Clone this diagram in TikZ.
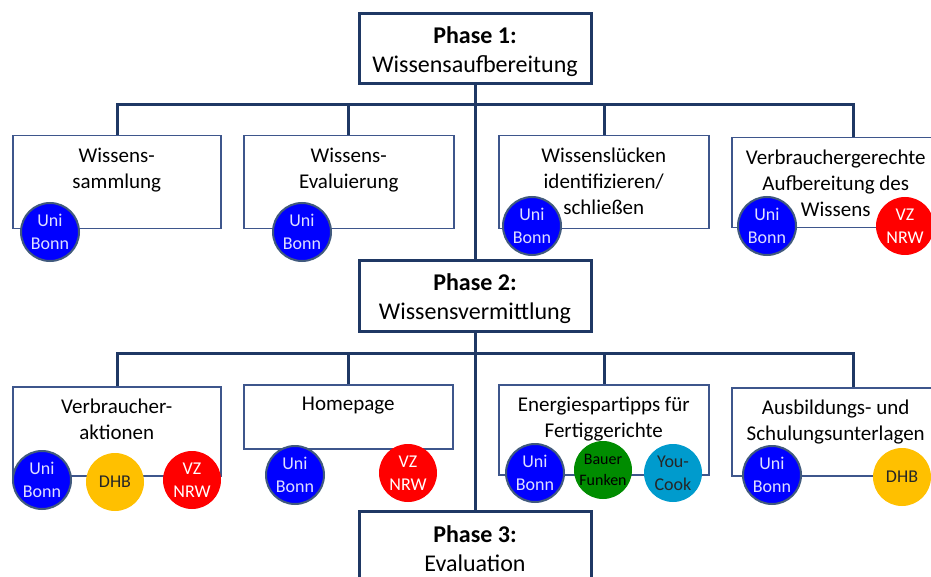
\documentclass[tikz,border=0pt]{standalone}
\usepackage{fontspec}
\setmainfont{Carlito}
\definecolor{navy}{RGB}{31,56,100}
\definecolor{boxline}{RGB}{62,86,140}
\definecolor{ringblue}{RGB}{65,90,125}
\definecolor{dhbgold}{RGB}{255,192,0}
\definecolor{funkgreen}{RGB}{0,140,0}
\definecolor{cookcyan}{RGB}{0,155,205}
\tikzset{
    tree/.style = {draw=navy, line width=1.5pt},
    phase/.style = {draw=navy, line width=1.5pt, fill=white, minimum width=116pt,
        minimum height=35pt, inner sep=0pt},
    phasetext/.style = {inner sep=0pt, align=center, font=\fontsize{12}{14.5}\selectfont},
    task/.style = {draw=boxline, line width=0.75pt, fill=white, inner sep=0pt, anchor=north west},
    tasktext/.style = {inner sep=0pt, anchor=north, align=center,
        font=\fontsize{10.5}{13}\selectfont},
    partner/.style = {circle, minimum size=29pt, inner sep=0pt, align=center,
        font=\fontsize{9}{11.5}\selectfont},
    unibonn/.style = {partner, fill=blue, draw=ringblue, line width=1pt, text=white!88!blue},
    vznrw/.style = {partner, fill=red, text=white},
    dhb/.style = {partner, fill=dhbgold, text=black!85},
    funken/.style = {partner, fill=funkgreen, text=black, font=\fontsize{8}{10.5}\selectfont},
    youcook/.style = {partner, fill=cookcyan, text=black!85},
}

\begin{document}
\begin{tikzpicture}[x=0.5pt, y=-0.5pt]
    \useasboundingbox[fill=white] (0,0) rectangle (931,577);
    \clip (0,0) rectangle (931,577);

    % phases
    \node[phase] (p1) at (475,49) {};
    \node[phasetext] (p1t) at ([yshift=-1.5pt]p1.center) {\textbf{Phase 1:}\\Wissensaufbereitung};
    \node[phase] (p2) at (475,296) {};
    \node[phasetext] (p2t) at ([yshift=-1.5pt]p2.center) {\textbf{Phase 2:}\\Wissensvermittlung};
    \node[phase] (p3) at (475,546) {};
    \node[phasetext] (p3t) at ([yshift=-1.5pt]p3.center) {\textbf{Phase 3:}\\Evaluation};

    % level 1
    \node[task, minimum width=104pt, minimum height=46.5pt] (wsam) at (12,135) {};
    \node[tasktext] (wsamt) at ([yshift=-6.5pt]wsam.north) {Wissens-\\sammlung};
    \node[task, minimum width=105pt, minimum height=46.5pt] (weva) at (243,135) {};
    \node[tasktext] (wevat) at ([yshift=-6.5pt]weva.north) {Wissens-\\Evaluierung};
    \node[task, minimum width=105pt, minimum height=46.5pt] (wlue) at (498,135) {};
    \node[tasktext] (wluet) at ([yshift=-6.5pt]wlue.north) {Wissenslücken\\identifizieren/\\schließen};
    \node[task, minimum width=104pt, minimum height=45pt] (aufb) at (731,137) {};
    \node[tasktext] (aufbt) at ([yshift=-6.5pt]aufb.north) {Verbrauchergerechte\\Aufbereitung des\\Wissens};

    % level 2
    \node[task, minimum width=104pt, minimum height=44.5pt] (vakt) at (12,386) {};
    \node[tasktext] (vaktt) at ([yshift=-6.5pt]vakt.north) {Verbraucher-\\aktionen};
    \node[task, minimum width=104.5pt, minimum height=32pt] (home) at (243,384) {};
    \node[tasktext] (homet) at ([yshift=-6.5pt]home.north) {Homepage};
    \node[task, minimum width=105pt, minimum height=45pt] (ener) at (498,384) {};
    \node[tasktext] (enert) at ([yshift=-6.5pt]ener.north) {Energiespartipps für\\Fertiggerichte};
    \node[task, minimum width=104pt, minimum height=44pt] (ausb) at (731,387) {};
    \node[tasktext] (ausbt) at ([yshift=-6.5pt]ausb.north) {Ausbildungs- und\\Schulungsunterlagen};

    % tree lines
    \coordinate (b1a) at (117,105);
    \coordinate (b1b) at (348,105);
    \coordinate (b1c) at (604,105);
    \coordinate (b1d) at (853,105);
    \coordinate (b2a) at (117,353);
    \coordinate (b2b) at (348,353);
    \coordinate (b2c) at (604,353);
    \coordinate (b2d) at (853,353);

    \draw[tree] (p1.south) -- (p2.north);
    \draw[tree] (p2.south) -- (p3.north);
    \draw[tree] (b1a |- wsam.north) -- (b1a) -- (b1d) -- (b1d |- aufb.north);
    \draw[tree] (b1b) -- (b1b |- weva.north);
    \draw[tree] (b1c) -- (b1c |- wlue.north);
    \draw[tree] (b2a |- vakt.north) -- (b2a) -- (b2d) -- (b2d |- ausb.north);
    \draw[tree] (b2b) -- (b2b |- home.north);
    \draw[tree] (b2c) -- (b2c |- ener.north);

    % partners
    \node[unibonn] (ub1) at (50,232) {Uni\\Bonn};
    \node[unibonn] (ub2) at (302,232) {Uni\\Bonn};
    \node[unibonn] (ub3) at (532,226) {Uni\\Bonn};
    \node[unibonn] (ub4) at (767,226) {Uni\\Bonn};
    \node[vznrw] (vz4) at (905,226) {VZ\\NRW};

    \node[unibonn] (ub5) at (42,480) {Uni\\Bonn};
    \node[dhb] (dhb5) at (115,482) {DHB};
    \node[vznrw] (vz5) at (192,480) {VZ\\NRW};
    \node[unibonn] (ub6) at (295,475) {Uni\\Bonn};
    \node[vznrw] (vz6) at (408,473) {VZ\\NRW};
    \node[unibonn] (ub7) at (535,473) {Uni\\Bonn};
    \node[funken] (bf7) at (603,470) {Bauer\\Funken};
    \node[youcook] (yc7) at (673,473) {You-\\Cook};
    \node[unibonn] (ub8) at (772,475) {Uni\\Bonn};
    \node[dhb] (dhb8) at (902,477) {DHB};
\end{tikzpicture}
\end{document}
